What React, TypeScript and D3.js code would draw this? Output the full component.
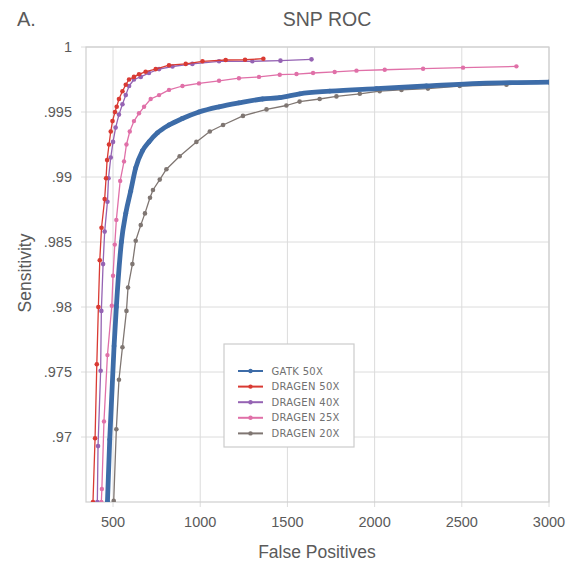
import * as d3 from "d3";

// false positives / sensitivity (bottom to top)
const gatk50Fp = [468, 481, 506, 519, 548, 573, 601, 630, 668, 706, 755, 821, 898, 993, 1108, 1222, 1357, 1456, 1571, 1743, 2010, 2297, 2603, 3000];
const gatk50Sens = [0.965, 0.9698, 0.977, 0.98, 0.985, 0.9872, 0.9889, 0.9907, 0.992, 0.9927, 0.9934, 0.994, 0.9945, 0.995, 0.9954, 0.9957, 0.996, 0.9961, 0.9964, 0.9966, 0.9968, 0.997, 0.9972, 0.9973];

const dragen50Fp = [385, 397, 407, 416, 424, 434, 452, 460, 466, 477, 487, 497, 511, 521, 534, 554, 573, 592, 620, 649, 687, 745, 821, 917, 1013, 1146, 1257, 1362];
const dragen50Sens = [0.965, 0.9699, 0.9756, 0.98, 0.9836, 0.9861, 0.9883, 0.9899, 0.9913, 0.9925, 0.9935, 0.9943, 0.995, 0.9954, 0.996, 0.9966, 0.9971, 0.9975, 0.9977, 0.9979, 0.9981, 0.9983, 0.9986, 0.9987, 0.9989, 0.999, 0.99902, 0.9991];

const dragen40Fp = [410, 414, 429, 433, 443, 452, 468, 474, 487, 500, 515, 534, 554, 573, 592, 620, 659, 706, 764, 841, 955, 1108, 1299, 1460, 1638];
const dragen40Sens = [0.965, 0.9693, 0.9751, 0.9797, 0.9833, 0.9858, 0.9881, 0.9899, 0.9915, 0.9927, 0.9938, 0.9948, 0.9956, 0.9963, 0.997, 0.9975, 0.9977, 0.998, 0.9983, 0.9985, 0.9987, 0.9989, 0.9989, 0.99895, 0.99905];

const dragen25Fp = [433, 436, 448, 468, 493, 500, 510, 519, 541, 563, 577, 596, 620, 649, 678, 716, 764, 821, 898, 993, 1108, 1222, 1337, 1456, 1552, 1647, 1771, 1896, 2058, 2278, 2507, 2813];
const dragen25Sens = [0.965, 0.966, 0.9712, 0.9763, 0.9801, 0.9824, 0.9848, 0.9867, 0.9897, 0.9912, 0.9925, 0.9935, 0.9943, 0.9949, 0.9954, 0.996, 0.9963, 0.9967, 0.997, 0.9972, 0.9974, 0.9976, 0.9977, 0.99787, 0.99792, 0.998, 0.99808, 0.99818, 0.99825, 0.99833, 0.99841, 0.99851];

const dragen20Fp = [504, 519, 534, 554, 577, 586, 611, 630, 659, 683, 712, 729, 768, 806, 882, 978, 1055, 1131, 1245, 1380, 1494, 1570, 1685, 1781, 1915, 2029, 2154, 2306, 2488, 2756, 3000];
const dragen20Sens = [0.9651, 0.9706, 0.9744, 0.9769, 0.9797, 0.9815, 0.9833, 0.9851, 0.9863, 0.9872, 0.9884, 0.989, 0.9898, 0.9906, 0.9916, 0.9927, 0.9935, 0.994, 0.9947, 0.9952, 0.9955, 0.9958, 0.996, 0.9962, 0.9964, 0.9966, 0.9967, 0.9968, 0.997, 0.9971, 0.9973];

const xTicks = [500, 1000, 1500, 2000, 2500, 3000];
const yTicks = [0.97, 0.975, 0.98, 0.985, 0.99, 0.995, 1];

const series = [
  { name: "GATK 50X", fp: gatk50Fp, sens: gatk50Sens, color: "#3d6ca8", width: 4.8, r: 2.4, smooth: true },
  { name: "DRAGEN 50X", fp: dragen50Fp, sens: dragen50Sens, color: "#d93a33", width: 1.3, r: 2.3, smooth: false },
  { name: "DRAGEN 40X", fp: dragen40Fp, sens: dragen40Sens, color: "#9563b3", width: 1.3, r: 2.3, smooth: false },
  { name: "DRAGEN 25X", fp: dragen25Fp, sens: dragen25Sens, color: "#e070a8", width: 1.3, r: 2.2, smooth: false },
  { name: "DRAGEN 20X", fp: dragen20Fp, sens: dragen20Sens, color: "#7f7672", width: 1.3, r: 2.3, smooth: false },
];

const width = 570;
const height = 563;
const left = 86;
const right = 549;
const top = 47;
const bottom = 502;

const textColor = "#5a5a5a";
const font = "'Liberation Sans', Arial, sans-serif";

const fmtY = (v: number) => (v === 1 ? "1" : d3.format(".3~f")(v).replace(/^0/, ""));

export default function App() {
  const x = d3.scaleLinear().domain([345, 3000]).range([left, right]);
  const y = d3.scaleLinear().domain([0.965, 1]).range([bottom, top]);

  const drawOrder = [4, 3, 0, 2, 1];

  return (
    <svg
      width={width}
      height={height}
      style={{ position: "absolute", left: 0, top: 0, background: "#fff" }}
      fontFamily={font}
    >
      <defs>
        <clipPath id="plot">
          <rect x={left} y={top - 4} width={right - left} height={bottom - top + 4} />
        </clipPath>
      </defs>

      <text x={17} y={26} fontSize={20} fill={textColor}>A.</text>
      <text x={327} y={26} fontSize={19.5} fill={textColor} textAnchor="middle">SNP ROC</text>

      {/* grid */}
      <g stroke="#dcdcdc" strokeWidth={1}>
        {xTicks.map((t) => (
          <line key={t} x1={x(t)} x2={x(t)} y1={top} y2={bottom + 5} />
        ))}
        {yTicks.map((t) => (
          <line key={t} x1={left - 5} x2={right} y1={y(t)} y2={y(t)} />
        ))}
      </g>
      <rect x={left} y={top} width={right - left} height={bottom - top} fill="none" stroke="#cfcfcf" strokeWidth={1.2} />

      {/* axis labels */}
      <g fill={textColor} fontSize={14.5}>
        {yTicks.map((t) => (
          <text key={t} x={left - 14} y={y(t) + 5} textAnchor="end">{fmtY(t)}</text>
        ))}
        {xTicks.map((t) => (
          <text key={t} x={x(t)} y={527} textAnchor="middle">{t}</text>
        ))}
      </g>
      <text x={317} y={558} fontSize={17.5} fill={textColor} textAnchor="middle">False Positives</text>
      <text transform="translate(31,273) rotate(-90)" fontSize={17.5} fill={textColor} textAnchor="middle">Sensitivity</text>

      {/* curves */}
      <g clipPath="url(#plot)">
        {drawOrder.map((i) => {
          const s = series[i];
          const pts = s.fp.map((f, k) => [x(f), y(s.sens[k])] as [number, number]);
          const line = d3.line().curve(s.smooth ? d3.curveMonotoneX : d3.curveLinear);
          return (
            <g key={s.name}>
              <path d={line(pts) ?? ""} fill="none" stroke={s.color} strokeWidth={s.width} strokeLinejoin="round" strokeLinecap="round" />
              {pts.map((p, k) => (
                <circle key={k} cx={p[0]} cy={p[1]} r={s.r} fill={s.color} />
              ))}
            </g>
          );
        })}
      </g>

      {/* legend */}
      <rect x={224} y={344} width={130} height={103} fill="#fff" stroke="#cccccc" strokeWidth={1.2} />
      {series.map((s, i) => {
        const ly = 371 + i * 15.6;
        return (
          <g key={s.name}>
            <line x1={238} x2={263} y1={ly} y2={ly} stroke={s.color} strokeWidth={2} />
            <circle cx={250.5} cy={ly} r={2.2} fill={s.color} />
            <text x={271.5} y={ly + 3.6} fontSize={10} fill="#707070" fontFamily="'DejaVu Sans', sans-serif" letterSpacing={0.3}>
              {s.name}
            </text>
          </g>
        );
      })}
    </svg>
  );
}
